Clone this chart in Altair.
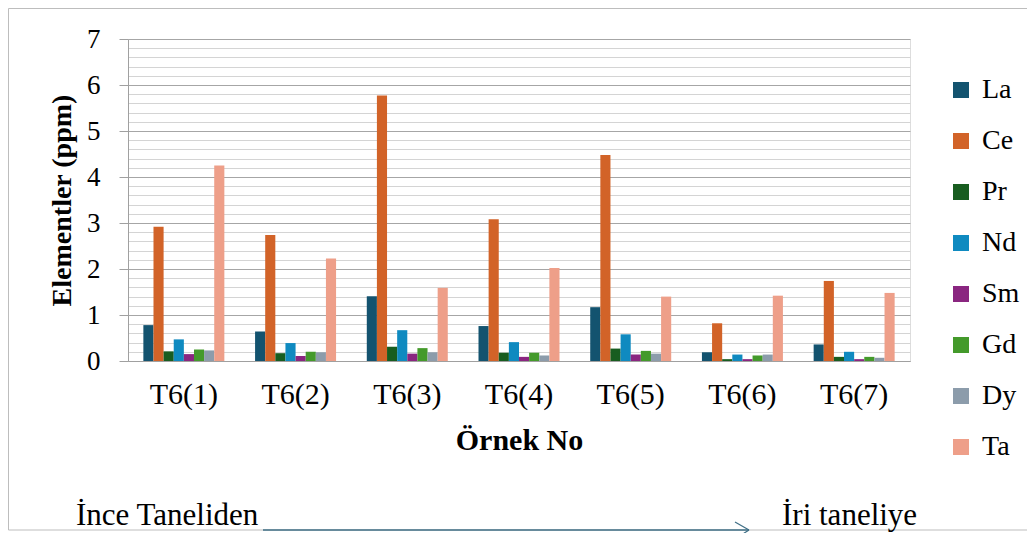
import altair as alt
import pandas as pd

samples = ["T6(1)", "T6(2)", "T6(3)", "T6(4)", "T6(5)", "T6(6)", "T6(7)"]
elements = ["La", "Ce", "Pr", "Nd", "Sm", "Gd", "Dy", "Ta"]
colors = ["#13536F", "#D26328", "#185D20", "#0F8AC0", "#8A2680", "#449A2B", "#8C9CAB", "#EE9F89"]

La = [0.78, 0.64, 1.41, 0.76, 1.17, 0.19, 0.36]
Ce = [2.92, 2.74, 5.77, 3.08, 4.48, 0.82, 1.74]
Pr = [0.21, 0.17, 0.31, 0.18, 0.27, 0.04, 0.09]
Nd = [0.47, 0.39, 0.67, 0.41, 0.58, 0.14, 0.20]
Sm = [0.15, 0.11, 0.16, 0.09, 0.14, 0.04, 0.04]
Gd = [0.25, 0.20, 0.28, 0.18, 0.22, 0.12, 0.09]
Dy = [0.23, 0.19, 0.19, 0.12, 0.16, 0.14, 0.07]
Ta = [4.25, 2.23, 1.59, 2.02, 1.40, 1.42, 1.48]

series = [La, Ce, Pr, Nd, Sm, Gd, Dy, Ta]
rows = []
for el, vals in zip(elements, series):
    for s, v in zip(samples, vals):
        rows.append({"sample": s, "element": el, "value": v})
df = pd.DataFrame(rows)

FONT = "Liberation Serif"
grid_vals = [round(i * 0.2, 1) for i in range(36)]
major_test = "abs(datum.value - round(datum.value)) < 0.001"

bars = alt.Chart(df).mark_bar().encode(
    x=alt.X("sample:N", sort=samples,
            scale=alt.Scale(paddingInner=0.275, paddingOuter=0.1375),
            axis=alt.Axis(title="Örnek No", labelAngle=0, ticks=False,
                          domainColor="#A0A0A0", labelFont=FONT, labelFontSize=30,
                          labelColor="black", labelPadding=18,
                          titleFont=FONT, titleFontSize=30, titleFontWeight="bold",
                          titleColor="black", titlePadding=16)),
    xOffset=alt.XOffset("element:N", sort=elements, scale=alt.Scale(paddingInner=0, paddingOuter=0)),
    y=alt.Y("value:Q", scale=alt.Scale(domain=[0, 7], nice=False),
            axis=alt.Axis(title="Elementler (ppm)", values=grid_vals, labelOverlap=False,
                          labelExpr="abs(datum.value - round(datum.value)) < 0.001 ? format(datum.value, 'd') : ''",
                          gridColor={"condition": {"test": major_test, "value": "#A6A6A6"}, "value": "#D4D4D4"},
                          tickColor={"condition": {"test": major_test, "value": "#A0A0A0"}, "value": "transparent"},
                          tickSize=9, domainColor="#A0A0A0",
                          labelFont=FONT, labelFontSize=27, labelColor="black", labelPadding=19,
                          titleFont=FONT, titleFontSize=28, titleFontWeight="bold",
                          titleColor="black", titlePadding=10)),
    color=alt.Color("element:N", sort=elements,
                    scale=alt.Scale(domain=elements, range=colors),
                    legend=alt.Legend(title=None, orient="none", legendX=819, legendY=37,
                                      symbolType="square", symbolSize=256, symbolStrokeWidth=0,
                                      labelFont=FONT, labelFontSize=28, labelColor="black",
                                      labelOffset=7, rowPadding=23, padding=0)),
)

one = alt.Data(values=[{"a": 1}])

frame = alt.Chart(one).mark_rect(fill="transparent", stroke="#BDBDBD", strokeWidth=1).encode(
    x=alt.value(-119.5), x2=alt.value(1000), y=alt.value(-30.5), y2=alt.value(491))

arrow_line = alt.Chart(one).mark_rule(color="#3F6F86", strokeWidth=1.5).encode(
    x=alt.value(135), x2=alt.value(621), y=alt.value(491), y2=alt.value(491))
arrow_top = alt.Chart(one).mark_rule(color="#3F6F86", strokeWidth=1.2).encode(
    x=alt.value(607), x2=alt.value(621), y=alt.value(483), y2=alt.value(491))
arrow_bot = alt.Chart(one).mark_rule(color="#3F6F86", strokeWidth=1.2).encode(
    x=alt.value(607), x2=alt.value(621), y=alt.value(500), y2=alt.value(491))

txt_left = alt.Chart(one).mark_text(text="İnce Taneliden", font=FONT, fontSize=31,
                                    align="left", baseline="alphabetic", color="black").encode(
    x=alt.value(-52), y=alt.value(486))
txt_right = alt.Chart(one).mark_text(text="İri taneliye", font=FONT, fontSize=31,
                                     align="left", baseline="alphabetic", color="black").encode(
    x=alt.value(654), y=alt.value(486))

chart = alt.layer(frame, bars, arrow_line, arrow_top, arrow_bot, txt_left, txt_right).properties(
    width=782, height=322,
    autosize=alt.AutoSizeParams(type="none"),
    padding={"left": 120, "top": 31, "right": 117, "bottom": 172},
).configure_view(stroke=None).configure(background="white", font=FONT).configure_legend(
    labelFont=FONT).configure_axis(labelFont=FONT)

chart.save("out.html", embed_options={"renderer": "svg", "actions": False})
